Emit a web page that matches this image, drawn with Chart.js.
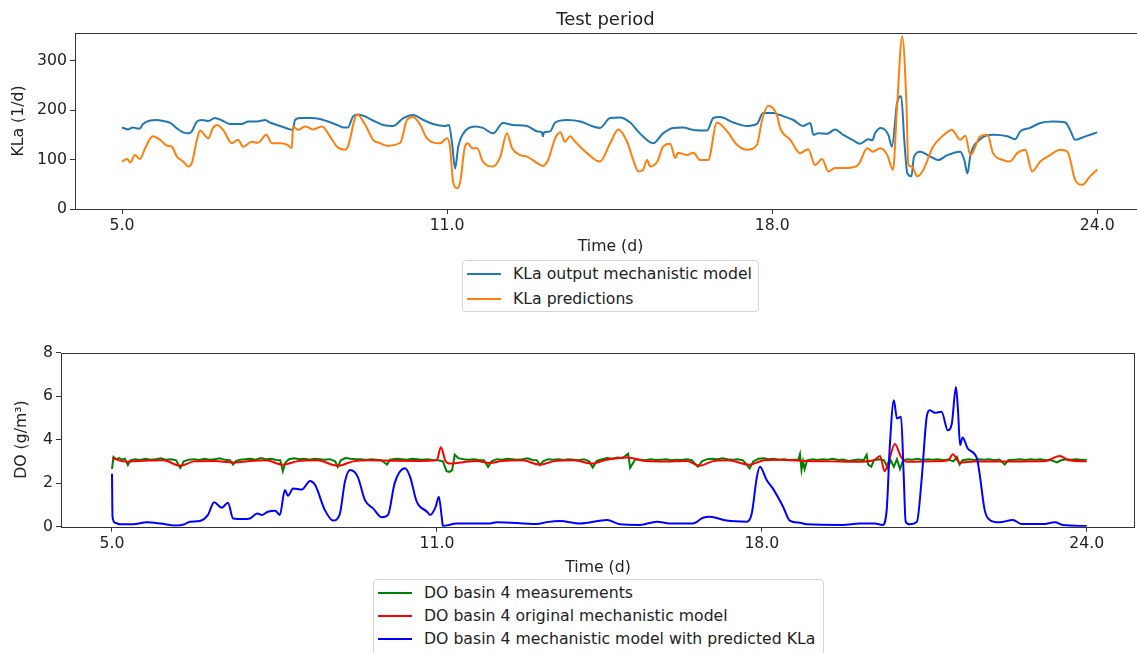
<!DOCTYPE html>
<html>
<head>
<meta charset="utf-8">
<script src="https://cdn.jsdelivr.net/npm/chart.js@4.4.1/dist/chart.umd.min.js"></script>
<style>
body { margin: 0; background: #fff; font-family: "DejaVu Sans", sans-serif; color: #222; }
#wrap { position: relative; width: 1137px; height: 653px; overflow: hidden; }
canvas { position: absolute; left: 0; }
#c1 { top: 0; }
#c2 { top: 320px; }
.title { position: absolute; top: 8px; left: 75px; width: 1061px; text-align: center; font-size: 18px; line-height: 21px; }
.legend { position: absolute; background: #fff; border: 1px solid #d5d5d5; border-radius: 4px; font-size: 15.7px; box-sizing: border-box; }
.legend .row { display: flex; align-items: center; white-space: nowrap; }
.legend .swatch { width: 34px; height: 2px; margin-left: 4px; margin-right: 12px; }
</style>
</head>
<body>
<div id="wrap">
  <canvas id="c1" width="1150" height="258"></canvas>
  <canvas id="c2" width="1137" height="259"></canvas>
  <div class="title">Test period</div>
  <div class="legend" id="legend1" style="left:462px; top:260px; width:297px; height:52px;"></div>
  <div class="legend" id="legend2" style="left:373px; top:579px; width:451px; height:80px; padding-top:1px;"></div>
</div>
<script>
// x axis: days, ticks evenly spread over the test period
const xTickValues = [5, 5 + 19 / 3, 5 + 38 / 3, 24];
const xTickLabels = ["5.0", "11.0", "18.0", "24.0"];
const kLaTicks = [0, 100, 200, 300];
const doTicks = [0, 2, 4, 6, 8];

// KLa output mechanistic model
const mechTime = [5.00,5.12,5.21,5.29,5.35,5.41,5.55,5.68,5.80,5.94,6.07,6.19,6.29,6.36,6.46,6.56,6.68,6.81,6.95,7.10,
  7.24,7.34,7.46,7.63,7.79,7.88,8.08,8.27,8.33,8.37,8.47,8.66,8.86,9.01,9.19,9.31,9.40,9.50,9.60,9.74,
  9.89,10.09,10.28,10.48,10.67,10.87,11.06,11.29,11.37,11.43,11.49,11.55,11.65,11.88,12.03,12.23,12.42,12.62,12.89,13.09,
  13.18,13.20,13.22,13.34,13.44,13.67,13.93,14.18,14.31,14.51,14.70,14.90,15.09,15.35,15.54,15.74,15.93,16.13,16.40,16.52,
  16.65,16.91,17.18,17.37,17.49,17.69,17.82,18.08,18.27,18.41,18.47,18.56,18.74,18.89,19.05,19.23,19.38,19.54,19.62,19.67,
  19.79,19.93,20.00,20.10,20.18,20.24,20.30,20.38,20.43,20.55,20.75,20.90,21.08,21.33,21.41,21.47,21.53,21.72,21.97,22.25,
  22.40,22.50,22.69,22.89,23.14,23.38,23.47,23.57,23.77,24.00];
const mechKLa = [165,161,165,163,163,172,179,180,178,174,163,155,153,157,177,180,178,184,179,172,
  172,172,177,177,180,175,168,161,160,180,184,184,182,177,170,165,165,187,191,187,
  179,170,168,184,190,180,172,168,170,133,82,126,153,167,164,153,174,170,168,157,
  155,147,155,157,175,180,177,167,164,184,185,175,153,133,153,164,165,160,159,184,
  186,175,168,172,194,194,190,180,168,174,150,153,152,161,150,140,132,141,139,153,
  164,150,126,214,228,140,72,66,106,116,106,99,109,116,99,72,109,141,150,147,
  141,157,164,174,177,175,160,140,147,155];

// KLa predictions
const predTime = [5.00,5.10,5.16,5.25,5.35,5.45,5.60,5.74,5.88,5.97,6.07,6.19,6.29,6.36,6.46,6.52,6.68,6.77,6.85,6.97,
  7.14,7.26,7.36,7.53,7.65,7.81,7.92,8.08,8.22,8.31,8.33,8.43,8.57,8.72,8.90,9.05,9.19,9.35,9.40,9.58,
  9.74,9.89,10.03,10.16,10.42,10.55,10.67,10.81,10.94,11.20,11.33,11.39,11.45,11.53,11.59,11.68,11.74,11.82,11.92,12.03,
  12.23,12.37,12.50,12.60,12.76,12.89,13.09,13.20,13.30,13.44,13.54,13.63,13.73,13.83,14.06,14.31,14.51,14.67,14.84,14.96,
  15.06,15.15,15.23,15.29,15.43,15.54,15.68,15.78,15.83,16.01,16.13,16.26,16.42,16.59,16.79,16.98,17.18,17.37,17.47,17.59,
  17.76,17.82,18.02,18.21,18.37,18.50,18.64,18.76,18.89,19.13,19.34,19.52,19.63,19.77,19.91,20.02,20.10,20.20,20.28,20.32,
  20.39,20.49,20.61,20.80,20.98,21.17,21.33,21.43,21.53,21.72,21.86,21.97,22.17,22.30,22.44,22.60,22.73,22.89,23.08,23.28,
  23.42,23.57,23.71,23.86,24.00];
const predKLa = [96,101,94,109,101,123,147,140,128,126,106,96,86,93,140,159,143,164,170,160,
  133,140,126,136,134,150,133,133,130,123,167,160,167,161,167,147,126,120,126,191,
  170,140,133,128,134,180,186,170,143,133,143,126,55,42,55,126,133,123,123,96,
  86,106,153,123,109,106,93,87,99,143,155,136,147,136,113,96,133,161,136,99,
  76,79,99,86,96,126,132,103,114,109,114,99,99,175,157,130,120,130,180,209,
  190,164,140,113,121,89,101,76,83,83,89,123,116,123,109,79,207,349,221,89,
  86,66,79,126,147,160,140,148,109,147,150,113,99,96,113,120,76,96,109,120,
  116,59,49,66,80];

// DO basin 4 measurements
const measTime = [5.00,5.03,5.08,5.14,5.2,5.25,5.31,5.36,5.45,5.55,5.65,5.75,5.85,5.95,6.05,6.15,6.25,6.33,6.4,6.5,
  6.6,6.7,6.8,6.9,7.0,7.1,7.2,7.3,7.36,7.42,7.5,7.6,7.7,7.8,7.9,8.0,8.1,8.2,8.28,8.33,
  8.38,8.45,8.55,8.65,8.75,8.85,8.95,9.05,9.15,9.25,9.35,9.40,9.46,9.55,9.65,9.75,9.85,9.95,10.05,10.15,
  10.25,10.36,10.42,10.55,10.65,10.75,10.85,10.95,11.05,11.15,11.25,11.35,11.45,11.52,11.58,11.63,11.68,11.75,11.85,11.95,
  12.05,12.15,12.25,12.33,12.4,12.5,12.6,12.7,12.8,12.9,13.0,13.1,13.2,13.28,13.34,13.4,13.5,13.6,13.7,13.8,
  13.9,14.0,14.1,14.2,14.3,14.37,14.45,14.55,14.65,14.75,14.85,14.95,15.06,15.1,15.15,15.2,15.3,15.4,15.5,15.6,
  15.7,15.8,15.9,16.0,16.1,16.2,16.3,16.42,16.5,16.6,16.7,16.8,16.9,17.0,17.1,17.2,17.3,17.43,17.5,17.6,
  17.7,17.8,17.9,18.0,18.1,18.2,18.3,18.38,18.41,18.44,18.47,18.5,18.55,18.65,18.75,18.85,18.95,19.05,19.15,19.25,
  19.35,19.45,19.55,19.65,19.71,19.74,19.8,19.85,19.95,20.05,20.12,20.18,20.24,20.3,20.36,20.42,20.5,20.6,20.7,20.8,
  20.9,21.0,21.1,21.2,21.3,21.4,21.47,21.52,21.58,21.7,21.8,21.9,22.0,22.1,22.2,22.3,22.4,22.47,22.6,22.7,
  22.8,22.9,23.0,23.1,23.2,23.3,23.42,23.5,23.6,23.7,23.8,23.9,24.0];
const measDO = [2.65,3.2,3.1,3.15,3.08,3.12,2.83,3.05,3.1,3.06,3.12,3.08,3.1,3.14,3.08,3.1,3.05,2.7,3.0,3.08,
  3.1,3.06,3.12,3.08,3.1,3.14,3.07,3.05,2.85,3.02,3.08,3.1,3.12,3.08,3.15,3.1,3.12,3.06,3.05,2.55,
  2.95,3.1,3.14,3.1,3.12,3.08,3.12,3.1,3.07,3.1,3.0,2.75,3.05,3.15,3.12,3.1,3.1,3.06,3.1,3.08,
  3.05,2.85,3.08,3.12,3.1,3.08,3.12,3.1,3.08,3.1,3.06,3.05,3.0,2.55,2.52,2.6,3.3,3.15,3.1,3.08,
  3.1,3.06,3.05,2.75,3.0,3.1,3.08,3.12,3.1,3.08,3.1,3.14,3.06,3.05,2.83,3.0,3.1,3.08,3.1,3.06,
  3.1,3.08,3.05,3.1,3.0,2.72,3.02,3.1,3.15,3.12,3.18,3.15,3.35,2.7,2.9,3.1,3.08,3.05,3.1,3.06,
  3.08,3.1,3.05,3.08,3.06,3.1,3.05,2.75,3.0,3.1,3.12,3.1,3.14,3.1,3.08,3.1,3.05,2.68,3.0,3.12,
  3.14,3.1,3.12,3.08,3.1,3.06,3.08,3.08,3.33,2.6,3.0,2.65,3.05,3.1,3.06,3.1,3.08,3.12,3.06,3.08,
  3.02,3.05,3.08,3.05,3.3,2.85,2.75,3.05,3.1,3.05,2.7,3.05,2.75,3.1,2.65,3.05,3.1,3.08,3.12,3.06,
  3.1,3.08,3.1,3.05,3.08,3.0,3.2,2.85,3.05,3.1,3.06,3.1,3.08,3.1,3.05,3.08,2.85,3.05,3.08,3.1,
  3.06,3.1,3.08,3.1,3.05,3.06,2.95,3.05,3.1,3.08,3.1,3.06,3.08];

// DO basin 4 original mechanistic model
const origTime = [5.00,5.29,5.5,6.0,6.33,6.6,7.0,7.36,7.7,8.0,8.33,8.6,9.0,9.40,9.7,10.0,10.5,11.0,11.33,11.41,
  11.50,11.58,11.8,12.1,12.37,12.6,13.0,13.34,13.6,14.0,14.37,14.6,15.04,15.4,15.8,16.2,16.46,16.7,17.0,17.43,
  17.7,18.0,18.5,19.0,19.5,19.85,19.97,20.06,20.15,20.26,20.38,20.5,21.0,21.3,21.39,21.52,21.8,22.5,23.2,23.47,
  23.65,24.0];
const origDO = [3.15,2.98,3.02,3.05,2.8,3.0,3.02,2.95,3.02,3.05,2.85,3.0,3.05,2.8,3.0,3.05,3.03,3.02,3.05,3.65,
  3.02,2.9,2.95,3.02,2.92,3.02,3.05,2.85,3.0,3.05,2.9,3.05,3.18,3.02,3.0,3.02,2.8,3.0,3.05,2.85,
  3.05,3.08,3.02,3.0,2.98,3.05,3.25,2.55,3.1,3.8,3.2,2.98,3.0,3.05,3.33,2.95,3.0,3.0,3.02,3.25,
  3.05,3.0];

// DO basin 4 mechanistic model with predicted KLa
const predDOTime = [5.00,5.01,5.06,5.16,5.41,5.68,5.94,6.27,6.42,6.52,6.71,6.87,6.99,7.14,7.26,7.36,7.55,7.69,7.83,7.92,
  8.04,8.18,8.27,8.37,8.43,8.53,8.70,8.86,8.96,9.15,9.31,9.44,9.54,9.64,9.79,9.93,10.09,10.26,10.38,10.51,
  10.71,10.81,10.94,11.14,11.20,11.31,11.37,11.43,11.45,11.72,12.37,12.50,13.28,13.48,13.73,14.12,14.65,14.90,15.29,15.62,
  15.87,16.32,16.52,16.65,16.98,17.37,17.47,17.57,17.63,17.76,17.88,18.08,18.21,18.41,18.54,19.24,19.58,19.87,20.02,20.10,
  20.16,20.24,20.30,20.38,20.43,20.47,20.55,20.69,20.78,20.88,20.94,21.04,21.17,21.29,21.37,21.45,21.49,21.53,21.58,21.68,
  21.86,21.91,22.01,22.11,22.30,22.56,22.73,23.14,23.38,23.53,24.00];
const predDO = [2.43,0.46,0.18,0.11,0.11,0.2,0.15,0.05,0.12,0.23,0.26,0.54,1.12,0.87,1.1,0.38,0.35,0.38,0.61,0.54,
  0.69,0.73,0.54,1.68,1.42,1.76,1.71,2.1,1.91,0.76,0.28,0.58,2.06,2.6,2.29,1.22,0.84,0.43,0.54,2.0,
  2.68,2.29,1.15,0.69,0.54,0.92,1.38,0.38,0.03,0.15,0.15,0.21,0.12,0.21,0.26,0.15,0.31,0.11,0.08,0.23,
  0.15,0.15,0.41,0.46,0.28,0.23,0.61,2.29,2.75,2.14,1.76,0.92,0.28,0.18,0.11,0.08,0.15,0.15,0.08,0.76,
  3.67,5.81,4.97,5.05,2.45,0.23,0.11,0.23,2.14,5.05,5.35,5.23,5.28,4.43,4.74,6.42,5.35,3.75,4.1,3.59,
  3.13,2.45,0.76,0.31,0.2,0.31,0.12,0.12,0.2,0.08,0.03];

const font = { family: "'DejaVu Sans', sans-serif", size: 15.7 };
const textColor = "#222";
const axisColor = "#333";

function toPoints(xs, ys) {
    return xs.map((x, i) => ({ x: x, y: ys[i] }));
}

// matplotlib style box around the plot area
const framePlugin = {
    id: "frame",
    afterDraw(chart) {
        const { ctx, chartArea: a } = chart;
        ctx.save();
        ctx.strokeStyle = axisColor;
        ctx.lineWidth = 1;
        ctx.strokeRect(Math.round(a.left) + 0.5, Math.round(a.top) + 0.5,
            Math.round(a.right - a.left) - 1, Math.round(a.bottom - a.top));
        ctx.restore();
    }
};

function xAxis(min, max, height) {
    return {
        type: "linear", min: min, max: max,
        afterBuildTicks: s => { s.ticks = xTickValues.map(v => ({ value: v })); },
        afterFit: s => { s.height = height; },
        ticks: { callback: (v, i) => xTickLabels[i], font: font, color: textColor, padding: 3, maxRotation: 0, autoSkip: false },
        grid: { drawOnChartArea: false, tickLength: 5, color: axisColor },
        border: { display: false },
        title: { display: true, text: "Time (d)", font: font, color: textColor, padding: { top: 0, bottom: 2 } }
    };
}

function yAxis(min, max, tickVals, width, label, titlePad) {
    return {
        min: min, max: max,
        afterBuildTicks: s => { s.ticks = tickVals.map(v => ({ value: v })); },
        afterFit: s => { s.width = width; },
        ticks: { font: font, color: textColor, padding: 3 },
        grid: { drawOnChartArea: false, tickLength: 5, color: axisColor },
        border: { display: false },
        title: { display: true, text: label, font: font, color: textColor, padding: { top: titlePad, bottom: 0 } }
    };
}

const common = {
    responsive: false,
    animation: false,
    events: [],
    plugins: { legend: { display: false }, tooltip: { enabled: false } },
    elements: { point: { radius: 0 } }
};

// top plot runs past the right edge of the picture, as in the original
new Chart(document.getElementById("c1"), {
    type: "line",
    data: {
        datasets: [
            { label: "KLa predictions", data: toPoints(predTime, predKLa), borderColor: "#ff7f0e", borderWidth: 2, cubicInterpolationMode: "monotone" },
            { label: "KLa output mechanistic model", data: toPoints(mechTime, mechKLa), borderColor: "#1f77b4", borderWidth: 2, cubicInterpolationMode: "monotone" }
        ]
    },
    options: Object.assign({}, common, {
        layout: { padding: { top: 33, right: 4, left: 0, bottom: 0 } },
        scales: {
            x: xAxis(4.084, 24.95, 49),
            y: yAxis(0, 356, kLaTicks, 75, "KLa (1/d)", 10)
        }
    }),
    plugins: [framePlugin]
});

new Chart(document.getElementById("c2"), {
    type: "line",
    data: {
        datasets: [
            { label: "DO basin 4 mechanistic model with predicted KLa", data: toPoints(predDOTime, predDO), borderColor: "#0000ff", borderWidth: 2, cubicInterpolationMode: "monotone" },
            { label: "DO basin 4 original mechanistic model", data: toPoints(origTime, origDO), borderColor: "#ff0000", borderWidth: 2, cubicInterpolationMode: "monotone" },
            { label: "DO basin 4 measurements", data: toPoints(measTime, measDO), borderColor: "#008000", borderWidth: 2 }
        ]
    },
    options: Object.assign({}, common, {
        layout: { padding: { top: 32.5, right: 2, left: 0, bottom: 0 } },
        scales: {
            x: xAxis(4.006, 24.94, 52.3),
            y: yAxis(0, 8, doTicks, 61, "DO (g/m\u00b3)", 13)
        }
    }),
    plugins: [framePlugin]
});

function buildLegend(id, items, rowHeight) {
    const box = document.getElementById(id);
    items.forEach(it => {
        box.innerHTML += `
            <div class="row" style="height:${rowHeight}px">
                <span class="swatch" style="background:${it.color}"></span>
                <span>${it.label}</span>
            </div>`;
    });
}

buildLegend("legend1", [
    { label: "KLa output mechanistic model", color: "#1f77b4" },
    { label: "KLa predictions", color: "#ff7f0e" }
], 25);

buildLegend("legend2", [
    { label: "DO basin 4 measurements", color: "#008000" },
    { label: "DO basin 4 original mechanistic model", color: "#ff0000" },
    { label: "DO basin 4 mechanistic model with predicted KLa", color: "#0000ff" }
], 23);
</script>
</body>
</html>
